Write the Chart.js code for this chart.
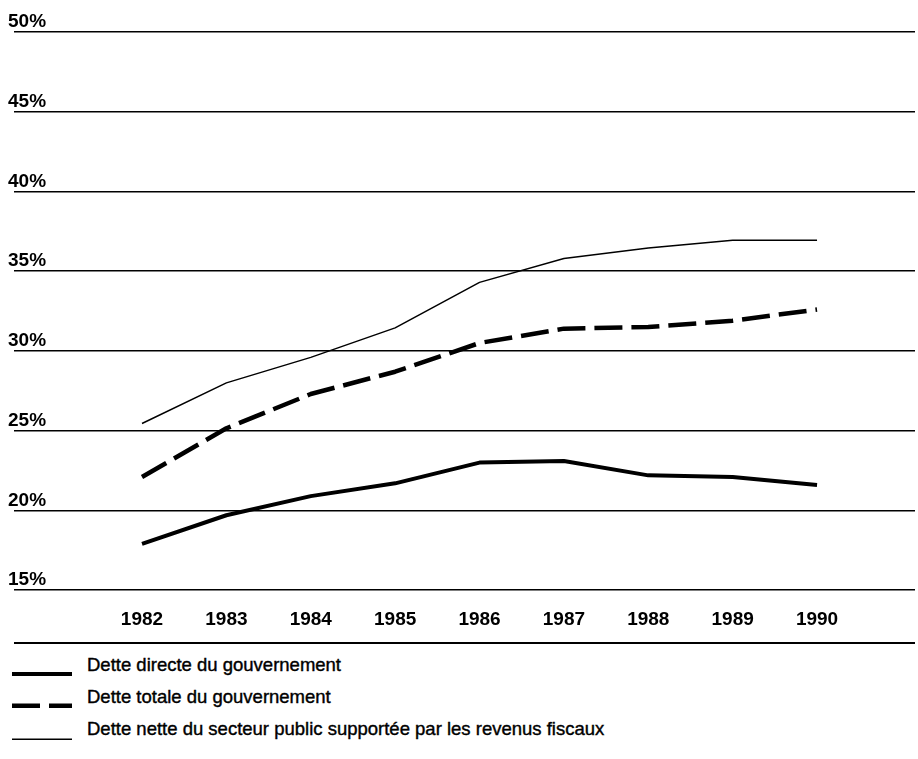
<!DOCTYPE html>
<html>
<head>
<meta charset="utf-8">
<script src="https://cdn.jsdelivr.net/npm/chart.js@4/dist/chart.umd.min.js"></script>
<style>
  body { margin: 0; background: #fff; }
  #wrap { position: relative; width: 918px; height: 759px; }
  #chartBox { position: absolute; left: 0; top: 0; width: 918px; height: 649px; }
  #sep { position: absolute; left: 14px; top: 642px; width: 901px; height: 2px; background: #000; }
  #legend { position: absolute; left: 12px; top: 652px; font-family: "Liberation Sans", Arial, sans-serif; font-size: 18.5px; color: #000; -webkit-text-stroke: 0.4px #000; }
  .row { display: flex; align-items: center; height: 32px; }
  .row svg { margin-right: 15px; }
  .row span { position: relative; top: -3px; }
</style>
</head>
<body>
<div id="wrap">
  <div id="chartBox"><canvas id="debtChart"></canvas></div>
  <div id="sep"></div>
  <div id="legend"></div>
</div>
<script>
const years = [1982, 1983, 1984, 1985, 1986, 1987, 1988, 1989, 1990];
const detteDirecte = [17.9, 19.7, 20.9, 21.7, 23.0, 23.1, 22.2, 22.1, 21.6];
const detteTotale = [22.1, 25.15, 27.3, 28.7, 30.5, 31.4, 31.5, 31.9, 32.6];
const detteNette = [25.45, 28.0, 29.6, 31.45, 34.3, 35.8, 36.45, 36.95, 36.95];
const seriesLabels = [
  'Dette directe du gouvernement',
  'Dette totale du gouvernement',
  'Dette nette du secteur public supportée par les revenus fiscaux'
];
const yTicks = [15, 20, 25, 30, 35, 40, 45, 50];

const FONT = '"Liberation Sans", Arial, sans-serif';

function toPoints(values) {
  return values.map((v, i) => ({ x: years[i], y: v }));
}

const datasets = [
  { label: seriesLabels[0], data: toPoints(detteDirecte), borderWidth: 4, borderDash: [] },
  { label: seriesLabels[1], data: toPoints(detteTotale), borderWidth: 4.5, borderDash: [28, 9] },
  { label: seriesLabels[2], data: toPoints(detteNette), borderWidth: 1.5, borderDash: [] }
].map(d => Object.assign(d, {
  borderColor: '#000',
  backgroundColor: '#000',
  pointRadius: 0,
  tension: 0,
  borderJoinStyle: 'round'
}));

new Chart(document.getElementById('debtChart').getContext('2d'), {
  type: 'line',
  data: { datasets: datasets },
  options: {
    responsive: true,
    maintainAspectRatio: false,
    animation: false,
    layout: { padding: { top: 32, left: 14, right: 3, bottom: 0 } },
    plugins: { legend: { display: false }, tooltip: { enabled: false } },
    scales: {
      x: {
        type: 'linear',
        min: 1980.483,
        max: 1991.161,
        afterBuildTicks: s => { s.ticks = years.map(v => ({ value: v })); },
        grid: { display: false, drawTicks: false },
        border: { display: false },
        ticks: {
          color: '#000',
          padding: 18,
          font: { family: FONT, size: 19, weight: 'bold' },
          callback: v => String(v)
        }
      },
      y: {
        min: 15,
        max: 50,
        afterBuildTicks: s => { s.ticks = yTicks.map(v => ({ value: v })); },
        grid: { color: '#000', lineWidth: 1.6, drawTicks: false },
        border: { display: false },
        ticks: {
          mirror: true,
          padding: -2,
          labelOffset: -10,
          color: '#000',
          font: { family: FONT, size: 19, weight: 'bold' },
          callback: v => v + '%'
        }
      }
    }
  }
});

// legend below the separator, built from the datasets
const legend = document.getElementById('legend');
datasets.forEach(d => {
  const row = document.createElement('div');
  row.className = 'row';
  const dash = d.borderDash.length ? d.borderDash.join(' ') : 'none';
  const w = d.borderWidth;
  row.innerHTML =
    '<svg width="60" height="20"><line x1="0" y1="' + (18 - w / 2) + '" x2="60" y2="' + (18 - w / 2) +
    '" stroke="#000" stroke-width="' + w + '" stroke-dasharray="' + dash + '"/></svg>' +
    '<span>' + d.label + '</span>';
  legend.appendChild(row);
});
</script>
</body>
</html>
